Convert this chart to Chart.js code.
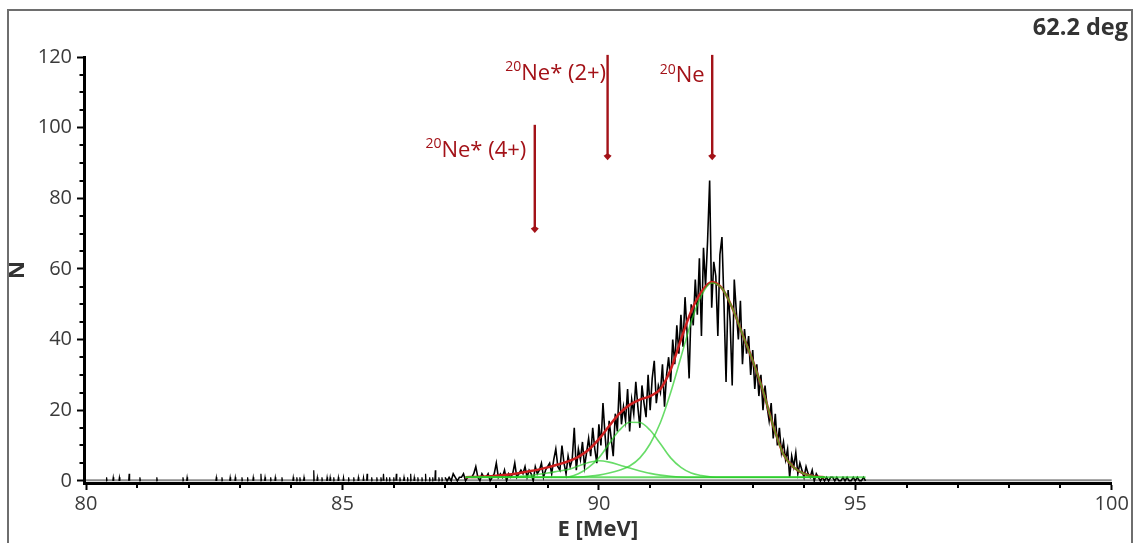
<!DOCTYPE html>
<html>
<head>
<meta charset="utf-8">
<title>62.2 deg spectrum</title>
<script src="https://cdn.jsdelivr.net/npm/chart.js@4.4.1/dist/chart.umd.min.js"></script>
<style>
  html, body { margin: 0; padding: 0; background: #fff; }
  #wrap { position: relative; width: 1138px; height: 543px; overflow: hidden; }
  #frame { position: absolute; left: 7px; top: 9px; width: 1122px; height: 600px; border: 2px solid #6e6e6e; pointer-events: none; }
</style>
</head>
<body>
<div id="wrap">
  <canvas id="spectrum" width="1138" height="543"></canvas>
  <div id="frame"></div>
</div>
<script>
// measured spectrum: counts per bin, bins every 0.04 MeV starting at 87.00 MeV
const histE0 = 87.0;
const histStep = 0.04;
const histN = [
  1, 0, 1, 0, 2, 1, 0, 1, 1, 2, 0, 1, 1,
  1, 2, 4, 1, 0, 2, 1, 1, 2, 0, 1, 2, 5,
  1, 2, 1, 3, 0, 2, 1, 2, 5, 1, 2, 3,
  2, 4, 1, 3, 2, 0, 4, 2, 3, 5, 1, 3, 4,
  5, 2, 6, 9, 4, 3, 10, 5, 2, 7, 4, 6, 15,
  3, 9, 6, 11, 4, 8, 12, 7, 15, 9, 5, 16,
  10, 22, 13, 6, 17, 12, 7, 19, 14, 28, 16, 21,
  17, 26, 14, 23, 19, 28, 21, 15, 27, 22, 18, 30,
  20, 29, 34, 22, 27, 25, 33, 21, 30, 35, 28, 40,
  33, 44, 36, 47, 38, 52, 42, 29, 50, 44, 57, 47,
  63, 41, 66, 55, 68, 85, 49, 62, 58, 41, 64, 69,
  50, 28, 54, 45, 27, 57, 48, 40, 51, 33, 43, 36,
  41, 30, 37, 26, 33, 24, 30, 20, 27, 21, 17, 22,
  12, 19, 10, 15, 8, 11, 6, 9, 1, 7, 4, 8,
  2, 5, 3, 1, 4, 2, 1, 3, 0, 2, 1, 0,
  1, 0, 1, 0, 1, 1, 0, 1, 0, 0, 1, 0, 1, 0, 0, 1, 0, 1, 0, 0, 1, 0
];

// isolated counts below 87 MeV
const lowE = [
  80.40, 80.53, 80.65, 80.84, 81.05, 81.38, 81.89, 81.97, 82.54, 82.65,
  82.81, 82.91, 83.04, 83.15, 83.26, 83.41, 83.49, 83.60, 83.69, 83.82,
  84.04, 84.11, 84.17, 84.25, 84.44, 84.51, 84.60, 84.70, 84.76, 84.83,
  84.92, 85.02, 85.12, 85.22, 85.31, 85.41, 85.48, 85.57, 85.67, 85.75,
  85.80, 85.86, 85.92, 86.00, 86.05, 86.12, 86.20, 86.27, 86.33, 86.40,
  86.47, 86.55, 86.62, 86.70, 86.76, 86.81, 86.88, 86.94
];
const lowN = [
  1, 1, 1, 2, 1, 1, 1, 1, 1, 1,
  1, 1, 1, 1, 1, 2, 1, 1, 1, 1,
  1, 1, 1, 1, 3, 1, 1, 1, 1, 1,
  1, 1, 1, 1, 1, 1, 2, 1, 1, 1,
  2, 1, 1, 1, 2, 1, 1, 1, 2, 1,
  1, 1, 2, 1, 1, 3, 1, 1
];

// fit curves
const fitE = [
  87.4, 87.6, 87.8, 88.0, 88.2, 88.4, 88.6, 88.8, 89.0, 89.2,
  89.4, 89.6, 89.8, 90.0, 90.2, 90.4, 90.6, 90.8, 91.0, 91.2,
  91.4, 91.6, 91.8, 92.0, 92.2, 92.4, 92.6, 92.8, 93.0, 93.2,
  93.4, 93.6, 93.8, 94.0, 94.2, 94.4
];
const fitTotal = [
  1.0, 1.1, 1.2, 1.4, 1.7, 2.1, 2.6, 3.1, 3.8, 4.6,
  5.5, 6.8, 8.8, 11.8, 15.5, 19.0, 21.5, 23.0, 24.0, 26.0,
  31.5, 40.0, 48.0, 53.5, 56.3, 54.5, 49.0, 41.5, 34.0, 25.5,
  15.5, 7.5, 3.8, 2.0, 1.2, 1.0
];
const fitNe = [
  1.0, 1.0, 1.0, 1.0, 1.0, 1.0, 1.0, 1.0, 1.0, 1.0,
  1.0, 1.1, 1.3, 1.6, 2.2, 3.0, 4.2, 6.5, 10.5, 16.5,
  25.0, 35.0, 45.0, 52.5, 56.0, 54.5, 49.0, 41.5, 34.0, 25.5,
  15.5, 7.5, 3.8, 2.0, 1.2, 1.0
];
const fitNe2 = [
  1.0, 1.0, 1.0, 1.0, 1.0, 1.0, 1.0, 1.0, 1.0, 1.0,
  1.1, 2.0, 3.8, 6.5, 10.5, 14.3, 16.6, 16.5, 14.3, 10.5,
  6.5, 3.8, 2.2, 1.5, 1.1, 1.0, 1.0, 1.0, 1.0, 1.0,
  1.0, 1.0, 1.0, 1.0, 1.0, 1.0
];
const fitNe4 = [
  1.0, 1.0, 1.0, 1.0, 1.0, 1.2, 1.4, 1.8, 2.2, 2.7,
  3.2, 4.2, 5.2, 5.7, 5.3, 4.5, 3.6, 2.8, 2.1, 1.6,
  1.3, 1.1, 1.0, 1.0, 1.0, 1.0, 1.0, 1.0, 1.0, 1.0,
  1.0, 1.0, 1.0, 1.0, 1.0, 1.0
];
const baseE = [87.5, 95.2];
const baseN = [1.0, 1.0];

// peak markers
const markE = [88.75, 90.17, 92.21];
const markTop = [100.8, 120.6, 120.6];
const markTip = [70.2, 90.8, 90.8];
const markText = ['Ne* (4+)', 'Ne* (2+)', 'Ne'];
const markMass = '20';

const xTicks = [80, 85, 90, 95, 100];
const yTicks = [0, 20, 40, 60, 80, 100, 120];

const darkRed = 'rgb(163, 18, 24)';
const fitGreen = 'rgba(40, 205, 40, 0.7)';
// label placement next to each marker: gap to the arrow and baseline below arrow top (px)
const markGap = [8.5, 1.5, 7.5];
const markDrop = [31.7, 25, 27.5];

function pts(xs, ys) {
  return xs.map((e, i) => ({ x: e, y: ys[i] }));
}

const histPts = histN.map((n, i) => ({ x: histE0 + i * histStep, y: n }));
const lowPts = [];
lowE.forEach((e, i) => {
  lowPts.push({ x: e - 0.01, y: 0 }, { x: e, y: lowN[i] }, { x: e + 0.01, y: 0 }, { x: e + 0.011, y: null });
});

const decorations = {
  id: 'decorations',
  beforeDatasetsDraw(chart) {
    const { ctx, scales: { x, y } } = chart;
    const y0 = y.getPixelForValue(0) - 0.5;
    ctx.save();
    ctx.strokeStyle = '#8c8c8c';
    ctx.lineWidth = 2;
    ctx.beginPath();
    ctx.moveTo(x.getPixelForValue(80), y0);
    ctx.lineTo(x.getPixelForValue(100), y0);
    ctx.stroke();
    ctx.restore();
  },
  afterDraw(chart) {
    const { ctx, chartArea, scales: { x, y } } = chart;
    ctx.save();
    // minor ticks
    ctx.strokeStyle = '#000';
    ctx.lineWidth = 2;
    ctx.beginPath();
    for (let v = 5; v < 120; v += 5) {
      if (v % 20 === 0) continue;
      const py = Math.round(y.getPixelForValue(v));
      ctx.moveTo(chartArea.left - 4.5, py);
      ctx.lineTo(chartArea.left, py);
    }
    for (let v = 81; v < 100; v++) {
      if (v % 5 === 0) continue;
      const px = Math.round(x.getPixelForValue(v));
      ctx.moveTo(px, chartArea.bottom);
      ctx.lineTo(px, chartArea.bottom + 5);
    }
    ctx.stroke();

    // angle label
    ctx.fillStyle = '#333';
    ctx.font = 'bold 23.5px "Open Sans"';
    ctx.textAlign = 'right';
    ctx.textBaseline = 'alphabetic';
    ctx.fillText('62.2 deg', 1128, 35);

    // peak arrows
    ctx.strokeStyle = darkRed;
    ctx.fillStyle = darkRed;
    markE.forEach((e, i) => {
      const px = x.getPixelForValue(e);
      const top = y.getPixelForValue(markTop[i]);
      const tip = y.getPixelForValue(markTip[i]);
      ctx.lineWidth = 2.4;
      ctx.beginPath();
      ctx.moveTo(px, top);
      ctx.lineTo(px, tip - 4);
      ctx.stroke();
      ctx.beginPath();
      ctx.moveTo(px, tip);
      ctx.lineTo(px - 4, tip - 4.5);
      ctx.lineTo(px, tip - 7);
      ctx.lineTo(px + 4, tip - 4.5);
      ctx.closePath();
      ctx.fill();

      const right = px - markGap[i];
      const base = top + markDrop[i];
      ctx.textAlign = 'right';
      ctx.font = '22px "Open Sans"';
      ctx.fillText(markText[i], right, base);
      const w = ctx.measureText(markText[i]).width;
      ctx.font = '14px "Open Sans"';
      ctx.fillText(markMass, right - w, base - 8.5);
    });
    ctx.restore();
  }
};

new Chart(document.getElementById('spectrum'), {
  type: 'line',
  data: {
    datasets: [
      { data: histPts, borderColor: '#000', borderWidth: 1.6, pointRadius: 0, tension: 0, borderJoinStyle: 'miter', order: 5 },
      { data: lowPts, borderColor: '#000', borderWidth: 1.2, pointRadius: 0, tension: 0, spanGaps: false, order: 5 },
      { data: pts(fitE, fitTotal), borderColor: 'rgb(205, 30, 30)', borderWidth: 2.5, pointRadius: 0, cubicInterpolationMode: 'monotone', order: 3 },
      { data: pts(fitE, fitNe), borderColor: fitGreen, borderWidth: 1.6, pointRadius: 0, cubicInterpolationMode: 'monotone', order: 1 },
      { data: pts(fitE, fitNe2), borderColor: fitGreen, borderWidth: 1.6, pointRadius: 0, cubicInterpolationMode: 'monotone', order: 1 },
      { data: pts(fitE, fitNe4), borderColor: fitGreen, borderWidth: 1.6, pointRadius: 0, cubicInterpolationMode: 'monotone', order: 1 },
      { data: pts(baseE, baseN), borderColor: fitGreen, borderWidth: 2, pointRadius: 0, order: 1 }
    ]
  },
  options: {
    responsive: false,
    animation: false,
    devicePixelRatio: 1,
    events: [],
    layout: { padding: { top: 57, right: 26.3, left: 0, bottom: 0 } },
    plugins: { legend: { display: false }, tooltip: { enabled: false } },
    scales: {
      x: {
        type: 'linear',
        min: 79.96,
        max: 100,
        afterFit: scale => { scale.height = 60; },
        afterBuildTicks: scale => { scale.ticks = xTicks.map(v => ({ value: v })); },
        grid: { drawOnChartArea: false, drawTicks: true, tickLength: 7, tickColor: '#000', tickWidth: 2 },
        border: { display: true, color: '#000', width: 3 },
        ticks: { color: '#3a3a3a', font: { family: 'Open Sans', size: 20 }, padding: 2, maxRotation: 0 },
        title: { display: true, text: 'E [MeV]', color: '#333', font: { family: 'Open Sans', size: 22, weight: 'bold' }, padding: { top: 0, bottom: 0 } }
      },
      y: {
        type: 'linear',
        min: -0.62,
        max: 120,
        afterFit: scale => { scale.width = 84; },
        afterBuildTicks: scale => { scale.ticks = yTicks.map(v => ({ value: v })); },
        grid: { drawOnChartArea: false, drawTicks: true, tickLength: 7, tickColor: '#000', tickWidth: 2 },
        border: { display: true, color: '#000', width: 3 },
        ticks: { color: '#3a3a3a', font: { family: 'Open Sans', size: 20 }, padding: 5 },
        title: { display: true, text: 'N', color: '#333', font: { family: 'Open Sans', size: 22, weight: 'bold' }, padding: { top: 5, bottom: 0 } }
      }
    }
  },
  plugins: [decorations]
});
</script>
</body>
</html>
